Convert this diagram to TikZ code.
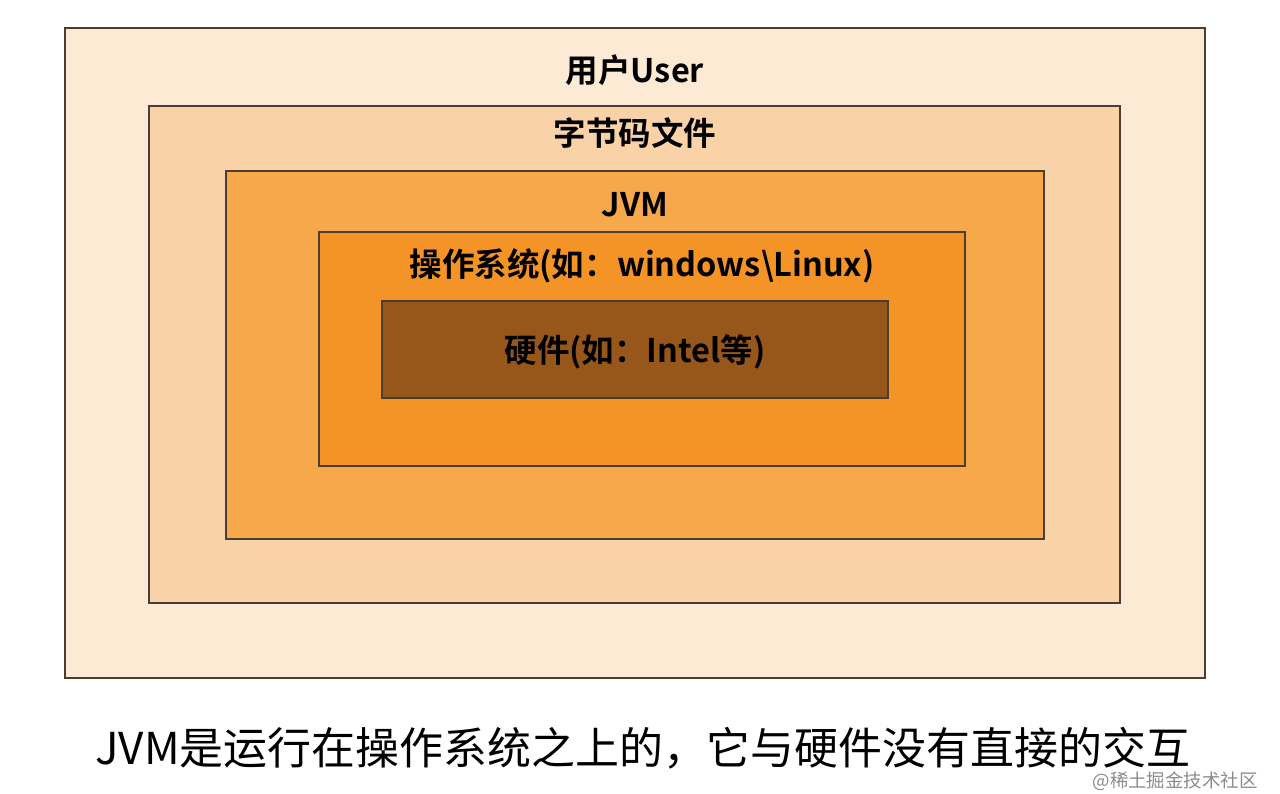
\documentclass[tikz,border=0pt]{standalone}
\usepackage{fontspec}
\setmainfont{Noto Sans CJK SC}
\newfontfamily\boldcjk{Noto Sans CJK SC Bold}
\usepackage{tikz}
\usetikzlibrary{positioning,calc}
\usepackage{xcolor}
\definecolor{userC}{HTML}{FCEAD5}
\definecolor{codeC}{HTML}{F9D2A7}
\definecolor{jvmC}{HTML}{F6A84B}
\definecolor{osC}{HTML}{F49426}
\definecolor{hwC}{HTML}{97561A}
\definecolor{edgeC}{HTML}{4A3E34}

\begin{document}
\begin{tikzpicture}[x=0.2mm, y=-0.2mm,
    layer/.style={draw=edgeC, line width=1.1pt},
    title/.style={font=\boldcjk\fontsize{18.5}{20}\selectfont, text=black, inner sep=0pt}]

    \useasboundingbox[fill=white] (0,0) rectangle (1280,793);

    % ---------------- Nested layers ----------------
    \foreach \xa/\ya/\xb/\yb/\col in {65/28/1205/678/userC, 149/106/1120/603/codeC,
        226/171/1044/539/jvmC, 319/232/965/466/osC, 382/301/888/398/hwC} {
        \draw[layer, fill=\col] (\xa,\ya) rectangle (\xb,\yb);
    }

    % ---------------- Layer titles ----------------
    \node[title] (user) at (635,70) {用户User};
    \node[title] (code) at (635,133) {字节码文件};
    \node[title] (jvm) at (635,205) {JVM};
    \node[title] (os) at (642,266) {操作系统(如：windows\textbackslash Linux)};
    \node[title] (hw) at (635,352) {硬件(如：Intel等)};

    % ---------------- Caption ----------------
    \node[font=\fontsize{25}{28}\selectfont, anchor=west, inner sep=0pt] (caption) at (95,748)
        {JVM是运行在操作系统之上的，它与硬件没有直接的交互};
    \node[font=\fontsize{10.5}{12}\selectfont, text=black!45, anchor=east, inner sep=0pt] (mark) at (1258,781)
        {@稀土掘金技术社区};

\end{tikzpicture}
\end{document}
